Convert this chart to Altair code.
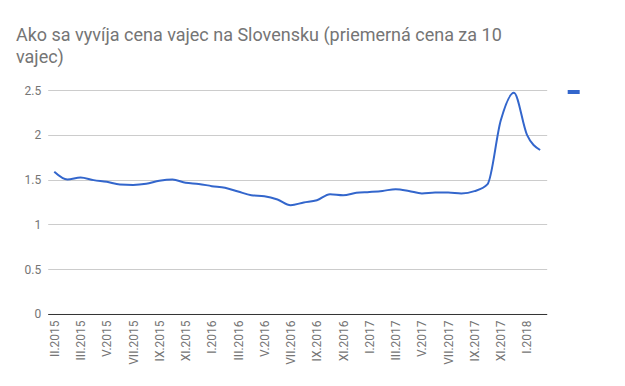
import altair as alt
import pandas as pd

title_lines = ["Ako sa vyvíja cena vajec na Slovensku (priemerná cena za 10", "vajec)"]

tick_labels = ["II.2015", "III.2015", "V.2015", "VII.2015", "IX.2015", "XI.2015",
               "I.2016", "III.2016", "V.2016", "VII.2016", "IX.2016", "XI.2016",
               "I.2017", "III.2017", "V.2017", "VII.2017", "IX.2017", "XI.2017", "I.2018"]

prices = [1.587, 1.50, 1.524, 1.494, 1.475, 1.446, 1.441, 1.453, 1.486, 1.50,
          1.464, 1.452, 1.427, 1.408, 1.367, 1.326, 1.315, 1.278, 1.215, 1.245,
          1.27, 1.337, 1.326, 1.352, 1.362, 1.374, 1.393, 1.374, 1.345, 1.356,
          1.356, 1.345, 1.371, 1.45, 2.16, 2.47, 2.0, 1.83]

df = pd.DataFrame({"idx": list(range(len(prices))), "cena": prices, "series": [" "] * len(prices)})

label_array = "[" + ",".join("'" + t + "'" for t in tick_labels) + "]"

GRAY = "#757575"
FONT = "Roboto"

chart = alt.Chart(df).mark_line(strokeWidth=2, interpolate="monotone").encode(
    x=alt.X("idx:Q",
            scale=alt.Scale(domain=[-0.5, 37.5], nice=False, zero=False),
            axis=alt.Axis(values=list(range(0, 2 * len(tick_labels), 2)),
                          labelExpr=label_array + "[datum.value / 2]",
                          labelAngle=270, labelFontSize=12, labelFont=FONT, labelColor=GRAY,
                          labelPadding=6, ticks=False, grid=False, title=None,
                          domainColor="#333333", domainWidth=1, labelOverlap=False,
                          labelBound=False, labelFlush=False)),
    y=alt.Y("cena:Q",
            scale=alt.Scale(domain=[0, 2.5], nice=False),
            axis=alt.Axis(values=[0, 0.5, 1, 1.5, 2, 2.5], format="~g",
                          labelFontSize=12, labelFont=FONT, labelColor=GRAY,
                          labelPadding=7, ticks=False, domain=False,
                          gridColor="#cccccc", gridWidth=1, title=None)),
    color=alt.Color("series:N", scale=alt.Scale(range=["#3366cc"]),
                    legend=alt.Legend(orient="none", legendX=518, legendY=-6, title=None,
                                      symbolType="stroke", symbolStrokeWidth=4, symbolSize=144,
                                      labelExpr="''", labelFontSize=1, padding=0)),
).properties(
    width=499,
    height=224,
    title=alt.TitleParams(text=title_lines, anchor="start", frame="group", fontSize=18, font=FONT,
                          fontWeight="normal", color=GRAY, lineHeight=22,
                          dx=-31.7, offset=17),
    autosize=alt.AutoSizeParams(type="none"),
    padding={"left": 39.7, "top": 82, "right": 70, "bottom": 64},
).configure_view(stroke=None)

chart.save("out.html", embed_options={"renderer": "svg", "actions": False})
